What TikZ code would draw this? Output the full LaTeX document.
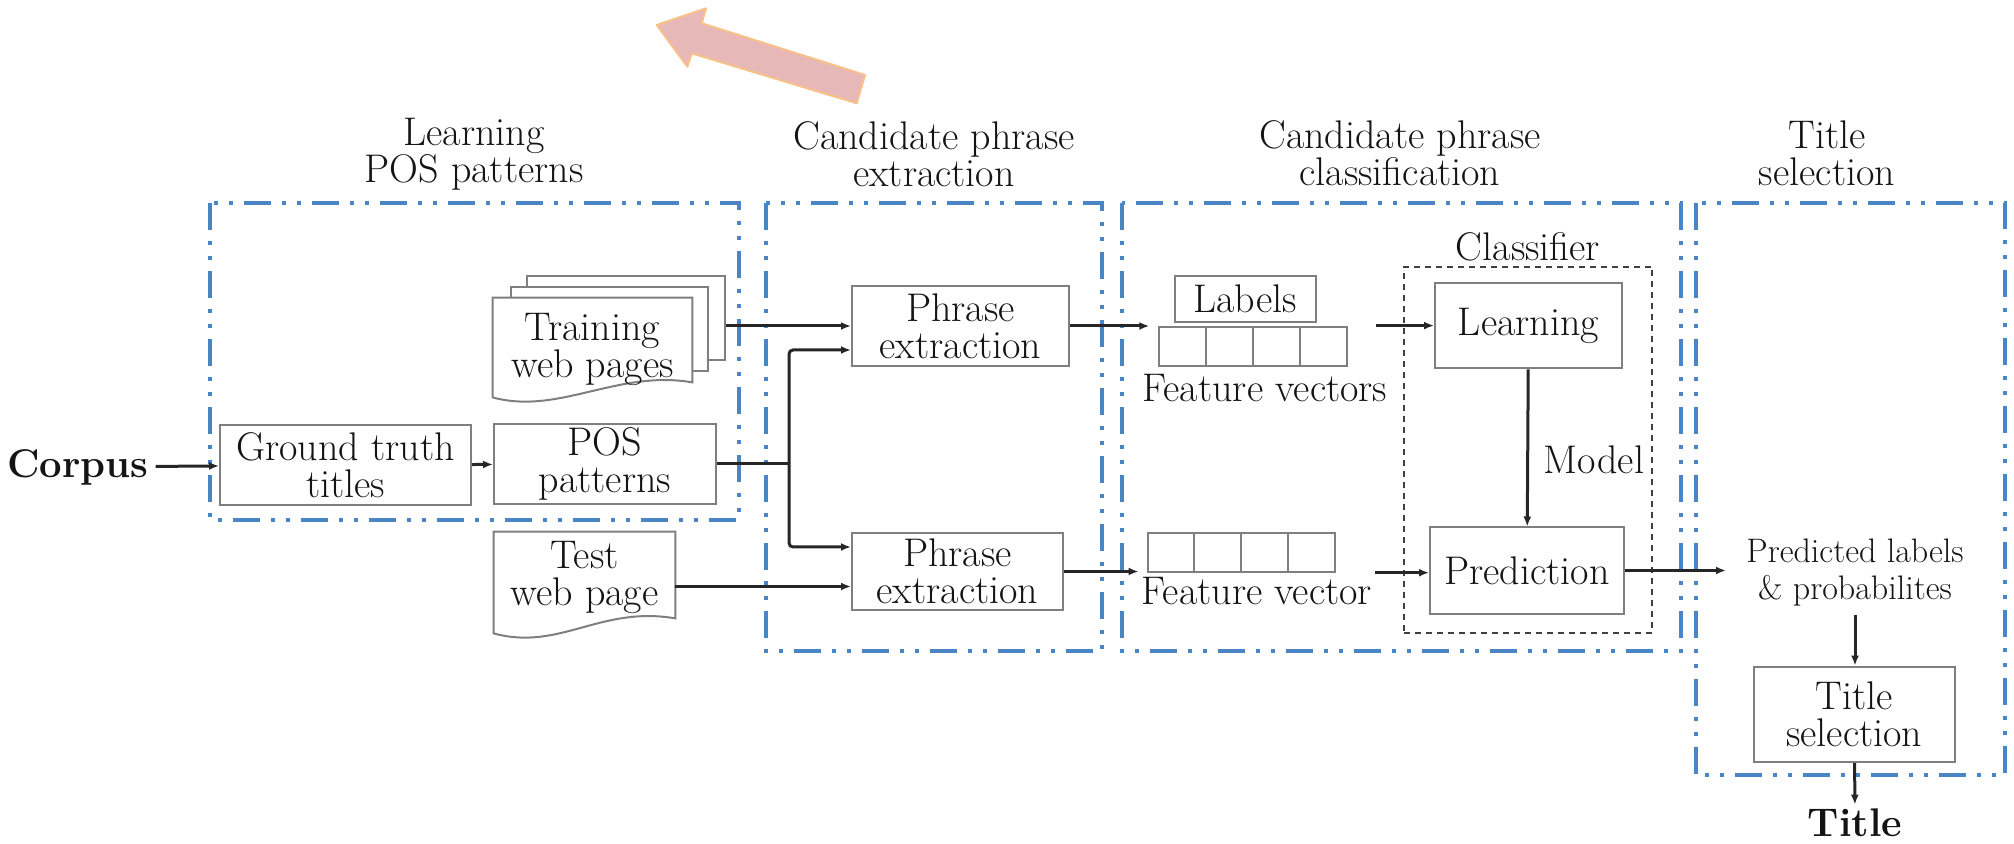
\documentclass[tikz,border=0pt]{standalone}
\usetikzlibrary{arrows.meta,calc}
\definecolor{stageblue}{HTML}{4A86C6}
\definecolor{boxgray}{HTML}{7F7F7F}
\definecolor{hintfill}{HTML}{E6B9B8}
\definecolor{hintline}{HTML}{F9C08A}
\tikzset{
  every node/.style={font=\fontsize{20}{18.5}\selectfont, text=black!92},
  stagebox/.style={draw=stageblue, line width=2pt, dash pattern=on 13.5pt off 5.5pt on 2pt off 5.5pt on 2pt off 5.5pt},
  procbox/.style={draw=boxgray, line width=1pt, fill=white, align=center, inner sep=0pt},
  sheet/.style={draw=boxgray, line width=1pt, fill=white},
  cell/.style={draw=boxgray, line width=1pt, inner sep=0pt},
  flow/.style={-{Latex[length=5pt,width=4pt]}, line width=1.5pt, black!85},
  wire/.style={line width=1.5pt, black!85},
  heading/.style={align=center}
}
\newcommand{\docoutline}[1]{%
  \draw[sheet] (#1.north west) -- (#1.north east) -- (#1.south east)
    .. controls ($(#1.south east)+(-75,-13)$) and ($(#1.south west)+(66,33)$) .. ($(#1.south west)+(0,15)$)
    -- cycle;}
\begin{document}
\begin{tikzpicture}[x=0.5pt,y=-0.5pt]
    \useasboundingbox (0,0) rectangle (2014,844);
    % hint arrow
    \draw[fill=hintfill, draw=hintline, line width=1pt, line join=round]
      (656.7,25) -- (706,8.3) -- (701.7,23.3) -- (865,75) -- (856.7,103.3) -- (691.7,53.3) -- (687.3,66.7) -- cycle;

    % stages
    \node[heading] (h1) at (474,154) {Learning\\POS patterns};
    \node[heading] (h2) at (934,154) {Candidate phrase\\extraction};
    \node[heading] (h3) at (1400,153) {Candidate phrase\\classification};
    \node[heading] (h4) at (1827,153) {Title\\selection};
    \draw[stagebox] (210,202.7) rectangle (739,520);
    \draw[stagebox] (765.7,202.7) rectangle (1101.7,650.7);
    \draw[stagebox] (1121.6,202.7) rectangle (1680.5,650.7);
    \draw[stagebox] (1695.7,202.7) rectangle (2005,775);

    % learning POS patterns
    \node (corpus) at (78,467) {\bfseries Corpus};
    \node[procbox, minimum width=125.5pt, minimum height=40pt] (gt) at (345.5,465) {Ground truth\\titles};
    \node[procbox, minimum width=111pt, minimum height=40pt] (pos) at (605,464) {POS\\patterns};
    \node[sheet, minimum width=99pt, minimum height=42pt] (train3) at (626,318) {};
    \node[sheet, minimum width=98.5pt, minimum height=42pt] (train2) at (609.5,329) {};
    \node[minimum width=99.5pt, minimum height=42pt, inner sep=0pt] (train) at (592.5,340) {};
    \docoutline{train}
    \node[heading] (trainlbl) at (592.5,349) {Training\\web pages};
    \node[minimum width=90.5pt, minimum height=43pt, inner sep=0pt] (test) at (584.5,575) {};
    \docoutline{test}
    \node[heading] (testlbl) at (584.5,577) {Test\\web page};

    % candidate phrase extraction
    \node[procbox, minimum width=108.5pt, minimum height=40pt] (pe1) at (960.5,326) {Phrase\\extraction};
    \node[procbox, minimum width=105.5pt, minimum height=38.5pt] (pe2) at (957.5,571.5) {Phrase\\extraction};

    % classification
    \node[procbox, minimum width=70.3pt, minimum height=23pt] (labels) at (1245.3,298.7) {Labels};
    \foreach \i in {1,...,4} {
      \node[cell, minimum width=23.5pt, minimum height=19.7pt] (fa\i) at ({1182.8+47*(\i-1)},346.3) {};
      \node[cell, minimum width=23.45pt, minimum height=19.5pt] (fb\i) at ({1171+46.9*(\i-1)},552.2) {};
    }
    \node (falbl) at (1265,388) {Feature vectors};
    \node (fblbl) at (1257,591) {Feature vector};
    \node[draw=black!75, line width=1pt, dash pattern=on 3pt off 2.5pt, minimum width=124pt, minimum height=183.3pt, inner sep=0pt] (cls) at (1528,450) {};
    \node (clslbl) at (1528,246.7) {Classifier};
    \node[procbox, minimum width=93.5pt, minimum height=42.5pt] (learn) at (1528.5,325.8) {Learning};
    \node[procbox, minimum width=97pt, minimum height=43pt] (pred) at (1527,570.5) {Prediction};
    \node (model) at (1594,460) {Model};

    % title selection
    \node[heading, font=\fontsize{17}{18.5}\selectfont, inner xsep=10pt, inner ysep=4pt] (predlab) at (1855,573) {Predicted labels\\\& probabilites};
    \node[procbox, minimum width=100.7pt, minimum height=47.7pt] (tsel) at (1854.3,714.3) {Title\\selection};
    \node[inner sep=2pt] (title) at (1855,823) {\bfseries Title};

    % connectors
    \coordinate (jn) at (789,464);
    \coordinate (pe2in) at ($(pe2.west)+(0,15)$);
    \draw[flow] (corpus) -- (gt);
    \draw[flow] (gt) -- (pos);
    \draw[flow] (train3.east |- pe1) -- (pe1);
    \draw[wire] (pos) -- (jn);
    \draw[flow, rounded corners=2pt] (jn) |- ($(pe1.west)+(0,24)$);
    \draw[flow, rounded corners=2pt] (jn) |- ($(pe2.west)+(0,-24.5)$);
    \draw[flow] (test.east |- pe2in) -- (pe2in);
    \draw[flow, shorten >=4.5pt] (pe1) -- (pe1 -| fa1.west);
    \draw[flow, shorten >=4pt] (pe2) -- (pe2 -| fb1.west);
    \draw[flow, shorten <=14pt] (fa4.north east) -- (learn.west |- fa4.north east);
    \draw[flow, shorten <=19.5pt] (fb4.south east) -- (pred.west |- fb4.south east);
    \draw[flow] (learn) -- (pred);
    \draw[flow] (pred.east) -- (pred.east -| predlab.west);
    \draw[flow] (predlab.south) -- (predlab.south |- tsel.north);
    \draw[flow] (tsel) -- (title);
\end{tikzpicture}
\end{document}
